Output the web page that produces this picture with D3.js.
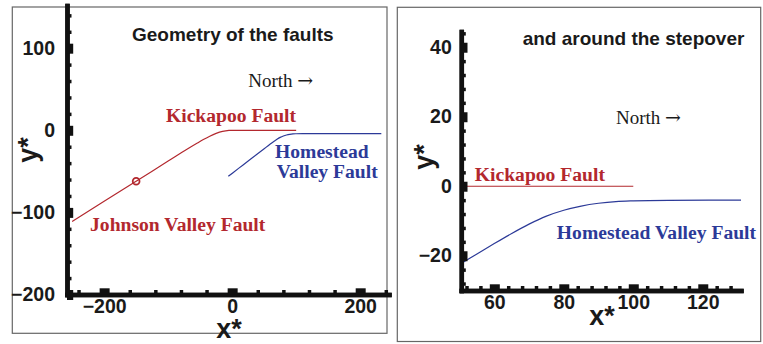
<!DOCTYPE html>
<html>
<head>
<meta charset="utf-8">
<script src="https://cdn.jsdelivr.net/npm/d3@7"></script>
<style>
  body { margin: 0; background: #fff; }
  svg { display: block; }
</style>
</head>
<body>
<svg id="chart" width="763" height="344"></svg>
<script>
// Johnson Valley + Kickapoo fault trace (x*, y*)
const redX = [-250, -200, -150, -100, -70, -55, -45, -35, -25, -15, -5, 0, 100];
const redY = [-111, -86.5, -62, -37.5, -22.8, -15.8, -11.3, -7.2, -3.8, -1.4, -0.2, 0, 0];

// Homestead Valley fault trace (x*, y*)
const blueX = [-6, 10, 30, 50, 55, 60, 65, 70, 75, 80, 85, 90, 95, 100, 110, 131, 233];
const blueY = [-56, -46.4, -34.4, -22.5, -19.5, -16.5, -13.6, -10.9, -8.6, -6.9, -5.7, -4.9, -4.4, -4.2, -4.05, -4, -4];

// marked point on the Johnson Valley segment
const markX = [-150];
const markY = [-62];

// tick labels
const leftXTicks = [-200, 0, 200];
const leftYTicks = [-200, -100, 0, 100];
const rightXTicks = [60, 80, 100, 120];
const rightYTicks = [-20, 0, 20, 40];

const RED = "#b3282e";
const BLUE = "#2c3a98";
const SANS = "'Liberation Sans', Arial, Helvetica, sans-serif";
const SERIF = "'Liberation Serif', 'Times New Roman', Times, serif";

const svg = d3.select("#chart");

const redPts = redX.map((x, i) => [x, redY[i]]);
const bluePts = blueX.map((x, i) => [x, blueY[i]]);

const panels = [
  {
    id: "p1",
    frame: [12.3, 7, 387, 333.3],
    xDomain: [-258, 245], xRange: [67, 389],
    yDomain: [-200, 152], yRange: [294.5, 5.5],
    xTicks: leftXTicks, yTicks: leftYTicks,
    xMinor: 40, yMinor: 20,
    yPad: 12, xPad: 5,
    xLabel: [229, 338], yLabel: [37, 150],
    title: { text: "Geometry of the faults", x: 132, y: 40.7 },
    north: [25, 53],
    notes: [
      { lines: ["Kickapoo Fault"], x: -103.4, y: 10.5, color: RED },
      { lines: ["Homestead", "Valley Fault"], x: 67, y: -34.1, color: BLUE, xs: [67, 69.5] },
      { lines: ["Johnson Valley Fault"], x: -222, y: -122.3, color: RED }
    ],
    marker: true
  },
  {
    id: "p2",
    frame: [397.3, 7.3, 760.7, 341.5],
    xDomain: [50.5, 131], xRange: [461.3, 741],
    yDomain: [-30, 44.5], yRange: [290.5, 31.6],
    xTicks: rightXTicks, yTicks: rightYTicks,
    xMinor: 4, yMinor: 4,
    yPad: 9.5, xPad: 5,
    xLabel: [602, 325], yLabel: [433, 157],
    title: { text: "and around the stepover", x: 522.7, y: 45 },
    north: [95, 17.9],
    notes: [
      { lines: ["Kickapoo Fault"], x: 54.4, y: 1.6, color: RED },
      { lines: ["Homestead Valley Fault"], x: 78, y: -15.25, color: BLUE }
    ],
    marker: false
  }
];

panels.forEach(p => {
  const g = svg.append("g");
  const x = d3.scaleLinear().domain(p.xDomain).range(p.xRange);
  const y = d3.scaleLinear().domain(p.yDomain).range(p.yRange);

  // panel frame
  const [fx0, fy0, fx1, fy1] = p.frame;
  g.append("rect")
    .attr("x", fx0).attr("y", fy0)
    .attr("width", fx1 - fx0).attr("height", fy1 - fy0)
    .attr("fill", "none").attr("stroke", "#666").attr("stroke-width", 1.2);

  // clip region for the traces
  g.append("clipPath").attr("id", "clip-" + p.id)
    .append("rect")
    .attr("x", p.xRange[0]).attr("y", p.yRange[1])
    .attr("width", p.xRange[1] - p.xRange[0])
    .attr("height", p.yRange[0] - p.yRange[1]);

  const line = d3.line().x(d => x(d[0])).y(d => y(d[1])).curve(d3.curveMonotoneX);
  const traces = g.append("g").attr("clip-path", `url(#clip-${p.id})`);
  traces.append("path").datum(redPts)
    .attr("d", line).attr("fill", "none").attr("stroke", RED).attr("stroke-width", 1.2);
  traces.append("path").datum(bluePts)
    .attr("d", line).attr("fill", "none").attr("stroke", BLUE).attr("stroke-width", 1.2);

  if (p.marker) {
    traces.selectAll("circle.mark").data(markX).join("circle")
      .attr("class", "mark")
      .attr("cx", (d) => x(d)).attr("cy", (d, i) => y(markY[i]))
      .attr("r", 3.4).attr("fill", "none").attr("stroke", RED).attr("stroke-width", 1.8);
  }

  // minor ticks
  const minors = (dom, step, majors) =>
    d3.range(Math.ceil(dom[0] / step) * step, dom[1] + 1e-9, step)
      .filter(v => !majors.some(m => Math.abs(m - v) < 1e-9));

  const y0 = y(p.yDomain[0]);
  const x0 = x(p.xDomain[0]);

  const xMinorAxis = d3.axisBottom(x).tickValues(minors(p.xDomain, p.xMinor, p.xTicks))
    .tickSizeInner(-4.5).tickSizeOuter(0).tickFormat("");
  const yMinorAxis = d3.axisLeft(y).tickValues(minors(p.yDomain, p.yMinor, p.yTicks))
    .tickSizeInner(-4.5).tickSizeOuter(0).tickFormat("");

  const xAxis = d3.axisBottom(x).tickValues(p.xTicks)
    .tickSizeInner(-6.2).tickSizeOuter(0).tickPadding(p.xPad);
  const yAxis = d3.axisLeft(y).tickValues(p.yTicks)
    .tickSizeInner(-6.2).tickSizeOuter(0).tickPadding(p.yPad);

  const styleAxis = (sel, tickW) => {
    sel.select(".domain").attr("stroke", "#111").attr("stroke-width", 4.5)
      .attr("stroke-linecap", "square");
    sel.selectAll(".tick line").attr("stroke", "#111").attr("stroke-width", tickW);
    sel.selectAll(".tick text")
      .attr("font-family", SANS).attr("font-weight", "bold")
      .attr("font-size", 19.5).attr("fill", "#1a1a1a");
  };

  g.append("g").attr("transform", `translate(0,${y0})`).call(xMinorAxis).call(s => styleAxis(s, 3.5));
  g.append("g").attr("transform", `translate(${x0},0)`).call(yMinorAxis).call(s => styleAxis(s, 3.5));
  g.append("g").attr("transform", `translate(0,${y0})`).call(xAxis).call(s => styleAxis(s, 10));
  g.append("g").attr("transform", `translate(${x0},0)`).call(yAxis).call(s => styleAxis(s, 10));

  // axis titles
  const xl = g.append("text")
    .attr("x", p.xLabel[0]).attr("y", p.xLabel[1])
    .attr("text-anchor", "middle")
    .attr("font-family", SANS).attr("font-weight", "bold").attr("font-size", 27)
    .attr("fill", "#1a1a1a");
  xl.append("tspan").text("x");
  xl.append("tspan").text("*");

  const yl = g.append("text")
    .attr("transform", `translate(${p.yLabel[0]},${p.yLabel[1]}) rotate(-90)`)
    .attr("text-anchor", "middle")
    .attr("font-family", SANS).attr("font-weight", "bold").attr("font-size", 27)
    .attr("fill", "#1a1a1a");
  yl.append("tspan").text("y");
  yl.append("tspan").text("*");

  // panel title
  g.append("text")
    .attr("x", p.title.x).attr("y", p.title.y)
    .attr("font-family", SANS).attr("font-weight", "bold").attr("font-size", 19)
    .attr("fill", "#1a1a1a")
    .text(p.title.text);

  // direction note
  const nt = g.append("text")
    .attr("x", x(p.north[0])).attr("y", y(p.north[1]))
    .attr("font-family", SERIF).attr("font-size", 19).attr("fill", "#1a1a1a");
  nt.append("tspan").text("North ");
  nt.append("tspan").attr("font-family", "'DejaVu Serif', serif").attr("font-size", 19).text("\u2192");

  // fault names
  p.notes.forEach(n => {
    n.lines.forEach((ln, i) => {
      const xs = n.xs ? n.xs[i] : n.x;
      g.append("text")
        .attr("x", x(xs)).attr("y", y(n.y) + i * 20)
        .attr("font-family", SERIF).attr("font-weight", "bold").attr("font-size", 19.6)
        .attr("fill", n.color)
        .text(ln);
    });
  });
});
</script>
</body>
</html>
